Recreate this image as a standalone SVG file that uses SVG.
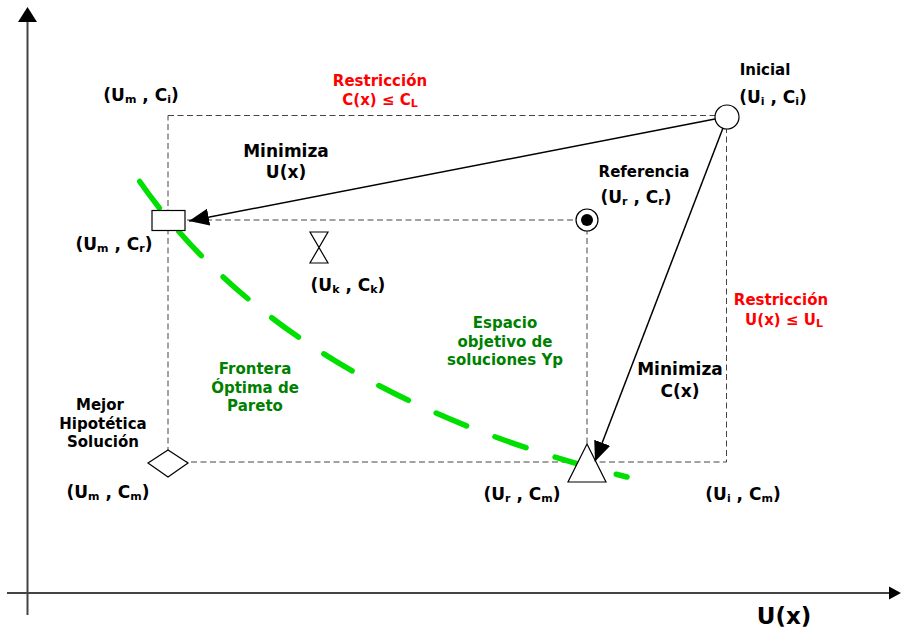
<svg xmlns="http://www.w3.org/2000/svg" width="901" height="629" viewBox="0 0 901 629">
<style>
text{font-family:"DejaVu Sans",Verdana,sans-serif;font-weight:bold;font-size:15px;fill:#000;text-anchor:middle}
.big{font-size:17px}
.ax{font-size:23px}
.red{fill:#ff0000}
.grn{fill:#008000}
.sub{font-size:11px}
.guide{fill:none;stroke:#444;stroke-width:1;stroke-dasharray:6 3.5}
.shape{fill:#fff;stroke:#000;stroke-width:1.2}
.axis{stroke:#444;stroke-width:2;fill:none}
.arr{stroke:#000;stroke-width:1.5;fill:none;marker-end:url(#ah)}
</style>
<defs>
<marker id="ah" markerUnits="userSpaceOnUse" markerWidth="21" markerHeight="18" refX="20" refY="8.5" orient="auto" viewBox="0 0 21 18">
<path d="M0,0 L20,8.5 L0,17 Z" fill="#000"/>
</marker>
</defs>
<g id="axes">
<line class="axis" x1="27.5" y1="615" x2="27.5" y2="20"/>
<path d="M27.5,7 L37,22 L18,22 Z" fill="#000"/>
<line class="axis" x1="7" y1="593" x2="890" y2="593"/>
<path d="M901,593 L889,586.5 L889,599.5 Z" fill="#000"/>
<text class="ax" x="784" y="624">U(x)</text>
</g>
<g id="guides">
<rect class="guide" x="168" y="115.5" width="558.5" height="346.5"/>
<path class="guide" d="M168,220 H587 V462"/>
</g>
<g id="pareto">
<path d="M138,179 Q285,392 627,477" fill="none" stroke="#00e000" stroke-width="5.5" stroke-linecap="round" stroke-dasharray="33 30.5" stroke-dashoffset="60.5"/>
<text class="grn" x="255" y="374">Frontera</text>
<text class="grn" x="255" y="392.5">Óptima de</text>
<text class="grn" x="255" y="410.5">Pareto</text>
</g>
<g id="espacio">
<text class="grn" x="505" y="328">Espacio</text>
<text class="grn" x="505" y="346.5">objetivo de</text>
<text class="grn" x="505" y="365">soluciones Yp</text>
</g>
<g id="restr-c">
<text class="red" x="380" y="86">Restricción</text>
<text class="red" x="380" y="105">C(x) ≤ C<tspan class="sub" dy="2">L</tspan></text>
</g>
<g id="restr-u">
<text class="red" x="781" y="305">Restricción</text>
<text class="red" x="784" y="325">U(x) ≤ U<tspan class="sub" dy="2">L</tspan></text>
</g>
<g id="um-ci">
<text class="big" x="141" y="101">(U<tspan class="sub" dy="2">m</tspan><tspan dy="-2"> , C</tspan><tspan class="sub" dy="2">i</tspan><tspan dy="-2">)</tspan></text>
</g>
<g id="inicial">
<circle class="shape" cx="727" cy="117" r="12"/>
<text x="765" y="75">Inicial</text>
<text class="big" x="773" y="103">(U<tspan class="sub" dy="2">i</tspan><tspan dy="-2"> , C</tspan><tspan class="sub" dy="2">i</tspan><tspan dy="-2">)</tspan></text>
</g>
<g id="referencia">
<circle class="shape" cx="587" cy="220" r="11"/>
<circle cx="587" cy="220" r="6" fill="#000"/>
<text x="644" y="177">Referencia</text>
<text class="big" x="636" y="203">(U<tspan class="sub" dy="2">r</tspan><tspan dy="-2"> , C</tspan><tspan class="sub" dy="2">r</tspan><tspan dy="-2">)</tspan></text>
</g>
<g id="um-cr">
<rect class="shape" x="152" y="210.5" width="33" height="20"/>
<text class="big" x="114" y="250">(U<tspan class="sub" dy="2">m</tspan><tspan dy="-2"> , C</tspan><tspan class="sub" dy="2">r</tspan><tspan dy="-2">)</tspan></text>
</g>
<g id="uk-ck">
<path class="shape" d="M310,232 H328 L310,263 H328 Z" fill="none"/>
<text class="big" x="348" y="290.5">(U<tspan class="sub" dy="2">k</tspan><tspan dy="-2"> , C</tspan><tspan class="sub" dy="2">k</tspan><tspan dy="-2">)</tspan></text>
</g>
<g id="mejor">
<path class="shape" d="M148,463 L168,450 L188,463 L168,477 Z"/>
<text x="100" y="410">Mejor</text>
<text x="103" y="428.5">Hipotética</text>
<text x="103" y="446.5">Solución</text>
<text class="big" x="108" y="498">(U<tspan class="sub" dy="2">m</tspan><tspan dy="-2"> , C</tspan><tspan class="sub" dy="2">m</tspan><tspan dy="-2">)</tspan></text>
</g>
<g id="ur-cm">
<path class="shape" d="M587,444 L606,482 L568,482 Z"/>
<text class="big" x="522" y="500">(U<tspan class="sub" dy="2">r</tspan><tspan dy="-2"> , C</tspan><tspan class="sub" dy="2">m</tspan><tspan dy="-2">)</tspan></text>
</g>
<g id="ui-cm">
<text class="big" x="743" y="500">(U<tspan class="sub" dy="2">i</tspan><tspan dy="-2"> , C</tspan><tspan class="sub" dy="2">m</tspan><tspan dy="-2">)</tspan></text>
</g>
<g id="connectors">
<line class="arr" x1="715" y1="119" x2="189" y2="221"/>
<line class="arr" x1="723" y1="128" x2="595" y2="461.5"/>
<text class="big" x="286" y="157">Minimiza</text>
<text class="big" x="286" y="178">U(x)</text>
<text class="big" x="680" y="375">Minimiza</text>
<text class="big" x="680" y="397">C(x)</text>
</g>
</svg>
